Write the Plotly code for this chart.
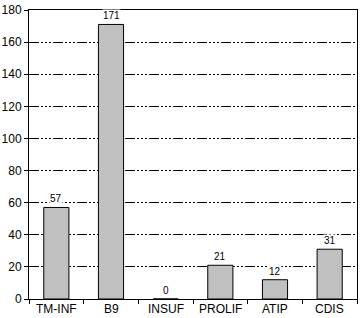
import plotly.graph_objects as go

categories = ["TM-INF", "B9", "INSUF", "PROLIF", "ATIP", "CDIS"]
values = [57, 171, 0, 21, 12, 31]
y_ticks = [0, 20, 40, 60, 80, 100, 120, 140, 160, 180]

FONT = "Liberation Sans, Arial, sans-serif"

pos = list(range(len(categories)))
boundaries = [i - 0.5 for i in range(len(categories) + 1)]

fig = go.Figure()
fig.add_trace(go.Bar(
    x=pos, y=values,
    marker=dict(color="#c0c0c0", line=dict(color="black", width=1)),
    width=0.46,
    hoverinfo="skip",
))

# value labels above bars
for p, v in zip(pos, values):
    fig.add_annotation(
        x=p, y=v, text=str(v), showarrow=False,
        yanchor="bottom", yshift=2,
        bgcolor="white", borderpad=0,
        font=dict(family=FONT, size=10, color="black"),
    )

# category labels just below the axis
for p, c in zip(pos, categories):
    fig.add_annotation(
        x=p, y=0, text=c, showarrow=False,
        yanchor="top", yshift=-1,
        font=dict(family=FONT, size=12, color="black"),
    )

fig.update_layout(
    width=362, height=318,
    margin=dict(l=29, r=5, t=10, b=19, autoexpand=False),
    paper_bgcolor="white", plot_bgcolor="white",
    showlegend=False,
    font=dict(family=FONT, size=11, color="black"),
    xaxis=dict(
        range=[boundaries[0], boundaries[-1]],
        tickvals=boundaries, showticklabels=False,
        showline=True, linecolor="black", linewidth=1, mirror=True,
        ticks="outside", ticklen=4, tickwidth=1, tickcolor="black",
        automargin=False, showgrid=False, zeroline=False,
    ),
    yaxis=dict(
        range=[0, 180], tickvals=y_ticks,
        showline=True, linecolor="black", linewidth=1, mirror=True,
        ticks="outside", ticklen=4, tickcolor="black",
        showgrid=True, gridcolor="black", gridwidth=1,
        griddash="10px,2px,2px,2px,2px,2px,2px,2px",
        zeroline=False, tickfont=dict(size=12), automargin=False,
    ),
)

fig.write_html(
    "out.html",
    config={"displayModeBar": False, "staticPlot": True},
    post_script="document.body.style.margin='0';document.body.style.overflow='hidden';",
)
